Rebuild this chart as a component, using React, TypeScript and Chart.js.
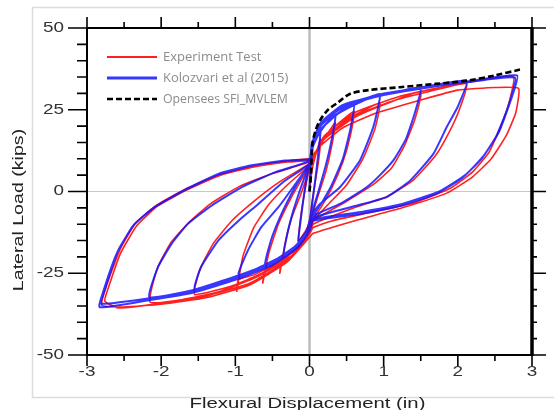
import React, { useEffect, useRef } from 'react';
import { Chart, registerables } from 'chart.js';

Chart.register(...registerables);

type P = [number, number];

// ---------- Series labels ----------
const seriesLabels = ['Experiment Test', 'Kolozvari et al (2015)', 'Opensees SFI_MVLEM'];

// ---------- Axis ticks ----------
const xTickLabels = [-3, -2, -1, 0, 1, 2, 3];
const xMinorTicks = [-2.5, -1.5, -0.5, 0.5, 1.5, 2.5];
const yTickLabels = [-50, -25, 0, 25, 50];
const yMinorTicks = [-45, -40, -35, -30, -20, -15, -10, -5, 5, 10, 15, 20, 30, 35, 40, 45];

// ---------- Experiment Test (red) ----------
const expCycle1: P[] = [[0, 0], [0.03, 6], [0.08, 11], [0.15, 16], [0.12, 9], [0.07, 2], [0.03, -4], [0, -9], [-0.05, -12], [-0.15, -15], [-0.12, -8], [-0.08, -2], [-0.04, 3], [0, 7]];
const expCycle2: P[] = [[0.04, 9], [0.12, 13], [0.22, 17], [0.35, 21], [0.3, 14], [0.22, 6], [0.12, -1], [0.04, -7], [0, -10], [-0.05, -14], [-0.2, -18], [-0.38, -21.5], [-0.4, -25], [-0.33, -16], [-0.24, -8], [-0.12, -1], [-0.03, 5], [0, 8]];
const expCycle3: P[] = [[0.04, 10], [0.15, 15], [0.35, 20], [0.6, 24.5], [0.55, 17], [0.45, 9], [0.3, 1], [0.15, -5], [0.03, -9], [0, -12], [-0.1, -15.5], [-0.3, -20], [-0.6, -24], [-0.63, -28], [-0.55, -19], [-0.42, -10], [-0.25, -2], [-0.1, 4], [0, 8]];
const expCycle4: P[] = [[0.04, 10], [0.2, 16], [0.5, 22], [0.75, 25], [0.95, 27], [0.88, 19], [0.72, 10], [0.5, 2], [0.25, -4], [0.05, -9], [0, -12.5], [-0.15, -17], [-0.45, -22], [-0.75, -25.5], [-0.96, -27], [-0.98, -30.5], [-0.9, -20], [-0.75, -11], [-0.55, -4], [-0.3, 2], [0, 8]];
const expCycle5: P[] = [[0.04, 10], [0.2, 16], [0.6, 22.5], [1.0, 26.5], [1.5, 30.5], [1.42, 22], [1.28, 14], [1.1, 7], [0.85, 2], [0.5, -3], [0.05, -9], [0, -12.5], [-0.2, -18], [-0.6, -24.5], [-1.0, -28.5], [-1.55, -31.5], [-1.48, -24], [-1.3, -16], [-1.05, -9], [-0.75, -3], [-0.4, 3], [0, 8.5]];
const expCycle6: P[] = [[0.04, 10], [0.2, 16], [0.6, 23], [1.1, 27.5], [1.6, 30.5], [2.12, 33], [2.02, 25], [1.88, 18], [1.7, 11], [1.4, 3.5], [1.05, -1.5], [0.6, -5], [0.05, -10], [0, -13], [-0.2, -19], [-0.7, -26], [-1.2, -30.5], [-1.7, -33], [-2.15, -33.8], [-2.06, -24], [-1.88, -16], [-1.65, -10], [-1.35, -4], [-0.95, 1.5], [-0.5, 5.5], [0, 9]];
const expCycle7: P[] = [[0.04, 10], [0.2, 17], [0.6, 24], [1.2, 29], [1.8, 32], [2.3, 34], [2.75, 35.2], [2.7, 28], [2.58, 20], [2.42, 12], [2.2, 6], [1.9, 1], [1.4, -3.5], [0.8, -6.5], [0.3, -9], [0.05, -11], [0, -13], [-0.3, -21], [-0.8, -28], [-1.4, -32], [-2.0, -34.2], [-2.58, -35.6], [-2.76, -33.5], [-2.72, -30], [-2.55, -19], [-2.33, -10.5], [-2.05, -4.5], [-1.65, 0.5], [-1.2, 5], [-0.75, 7.5], [-0.3, 9], [0, 9.5]];
const expCycle8: P[] = [[0.04, 11], [0.15, 14], [0.45, 19.5], [0.9, 24], [1.5, 28], [2.0, 31], [2.5, 31.8], [2.82, 31.5], [2.78, 24], [2.65, 17], [2.45, 10], [2.2, 4.5], [1.85, -0.5], [1.25, -5], [0.6, -9], [0.05, -12.8], [0, -14], [-0.3, -21.5], [-0.8, -28.5], [-1.4, -32.5], [-2.0, -34.5], [-2.5, -35.3], [-2.8, -34.8], [-2.74, -29], [-2.56, -18], [-2.34, -9.5], [-2.05, -4], [-1.65, 1], [-1.2, 5.2], [-0.7, 8], [-0.25, 9.5], [0, 10]];

// ---------- Kolozvari et al (2015) (blue) ----------
const kolCycle1: P[] = [[0, 0], [0.01, 6], [0.04, 13], [0.08, 16.5], [0.15, 19], [0.12, 12], [0.08, 4], [0.04, -3], [0.01, -8], [-0.04, -12], [-0.15, -15.5], [-0.12, -9], [-0.08, -2], [-0.04, 4], [0, 8.5]];
const kolCycle2: P[] = [[0.02, 12], [0.1, 16.5], [0.2, 20], [0.35, 23.5], [0.3, 16], [0.22, 8], [0.12, 0], [0.04, -6], [0, -9.5], [-0.05, -13.5], [-0.18, -17], [-0.35, -20], [-0.3, -13], [-0.22, -6], [-0.12, 1], [-0.04, 6], [0, 9]];
const kolCycle3: P[] = [[0.03, 13], [0.12, 18], [0.3, 22.5], [0.6, 27], [0.55, 19], [0.45, 10], [0.3, 2], [0.15, -4], [0.03, -8], [0, -11], [-0.08, -14], [-0.3, -19], [-0.6, -23], [-0.52, -15], [-0.4, -8], [-0.25, -1], [-0.1, 5], [0, 8.5]];
const kolCycle4: P[] = [[0.03, 13], [0.15, 19], [0.4, 24], [0.7, 27.5], [0.95, 29.8], [0.86, 19.7], [0.68, 9.5], [0.41, 1.3], [0.14, -3.8], [0.03, -7], [0, -11], [-0.1, -15], [-0.35, -19.5], [-0.7, -23.5], [-0.96, -25.5], [-0.83, -18], [-0.65, -10.9], [-0.42, -4.8], [-0.2, 2], [0, 8.5]];
const kolCycle5: P[] = [[0.03, 14], [0.15, 20], [0.4, 25], [0.8, 28.5], [1.2, 30.6], [1.5, 31.8], [1.42, 24], [1.3, 16], [1.13, 9.5], [0.95, 5], [0.77, 1.3], [0.41, -3.8], [0.05, -7.5], [0, -11], [-0.12, -15.5], [-0.45, -21], [-0.9, -25.5], [-1.2, -28], [-1.55, -29.8], [-1.46, -23], [-1.23, -15], [-0.96, -9], [-0.69, -3.8], [-0.35, 3], [0, 8.5]];
const kolCycle6: P[] = [[0.03, 14], [0.15, 20.5], [0.4, 25.5], [0.9, 29.5], [1.5, 31.8], [2.12, 33.8], [2.0, 26], [1.85, 19.7], [1.67, 11.5], [1.36, 3.4], [1.04, -1.7], [0.6, -4.5], [0.05, -8], [0, -11], [-0.15, -16], [-0.5, -21.5], [-1.0, -26], [-1.55, -30], [-2.16, -32.3], [-2.04, -23], [-1.86, -16], [-1.64, -9.9], [-1.32, -4.3], [-0.9, 1.5], [-0.45, 6], [0, 9.5]];
const kolCycle7: P[] = [[0.03, 14.5], [0.15, 21], [0.45, 26.5], [1.0, 29.8], [1.6, 32], [2.15, 33.7], [2.8, 35.5], [2.7, 27], [2.55, 18], [2.35, 11], [2.1, 5], [1.75, 0], [1.25, -3.8], [0.75, -6], [0.3, -7.5], [0.05, -8.5], [0, -11.5], [-0.15, -16.5], [-0.5, -22], [-1.0, -26.5], [-1.55, -30.3], [-2.15, -32.6], [-2.81, -34.3], [-2.76, -30], [-2.58, -18], [-2.36, -10], [-2.09, -4.8], [-1.7, 0.3], [-1.23, 5.4], [-0.78, 8], [-0.33, 9.5], [0, 10]];
const kolCycle8: P[] = [[0.03, 14], [0.15, 20.5], [0.45, 26], [1.0, 29.5], [1.6, 31.8], [2.15, 33.5], [2.77, 34.8], [2.68, 26], [2.52, 17], [2.32, 10], [2.05, 4], [1.7, -0.8], [1.2, -4.5], [0.7, -6.8], [0.3, -8], [0.05, -9], [0, -12], [-0.15, -17], [-0.5, -22.5], [-1.0, -27], [-1.55, -30.8], [-2.15, -33.2], [-2.83, -35.4], [-2.78, -30.5], [-2.6, -19], [-2.38, -10.5], [-2.1, -5], [-1.72, 0], [-1.25, 5], [-0.8, 7.8], [-0.35, 9.3], [0, 9.8]];

// ---------- Opensees SFI_MVLEM (black dashed envelope) ----------
const openseesEnvelope: P[] = [[0, 0], [0.02, 5], [0.04, 14.6], [0.08, 18.5], [0.14, 21.7], [0.25, 25], [0.37, 27], [0.55, 29.9], [0.8, 31], [1.22, 31.9], [1.7, 32.9], [2.12, 33.9], [2.5, 35.5], [2.84, 37.3]];

const experimentCycles = [expCycle1, expCycle2, expCycle3, expCycle4, expCycle5, expCycle6, expCycle7, expCycle8];
const kolozvariCycles = [kolCycle1, kolCycle2, kolCycle3, kolCycle4, kolCycle5, kolCycle6, kolCycle7, kolCycle8];

const toXY = (arr: P[]) => arr.map(([x, y]) => ({ x, y }));

const RED = 'rgba(255,20,20,0.95)';
const BLUE = 'rgba(20,20,255,0.85)';
const TEXT_FONT = '"Liberation Sans", Arial, sans-serif';

function stretchText(ctx: CanvasRenderingContext2D, text: string, x: number, y: number, align: CanvasTextAlign, sx: number, rot = 0) {
  ctx.save();
  ctx.translate(x, y);
  if (rot) ctx.rotate(rot);
  ctx.scale(sx, 1);
  ctx.textAlign = align;
  ctx.textBaseline = 'middle';
  ctx.fillText(text, 0, 0);
  ctx.restore();
}

const decorPlugin = {
  id: 'decor',
  beforeDraw(chart: any) {
    const ctx = chart.ctx as CanvasRenderingContext2D;
    ctx.save();
    ctx.fillStyle = '#ffffff';
    ctx.fillRect(0, 0, chart.width, chart.height);
    ctx.strokeStyle = '#dcdcdc';
    ctx.lineWidth = 1.5;
    ctx.strokeRect(32.5, 7.5, 540, 390);
    ctx.restore();
  },
  beforeDatasetsDraw(chart: any) {
    const ctx = chart.ctx as CanvasRenderingContext2D;
    const { left, right, top, bottom } = chart.chartArea;
    const xs = chart.scales.x;
    const ys = chart.scales.y;
    ctx.save();
    ctx.strokeStyle = '#c8c8c8';
    ctx.lineWidth = 1;
    const y0 = ys.getPixelForValue(0);
    ctx.beginPath();
    ctx.moveTo(left, y0);
    ctx.lineTo(right, y0);
    ctx.stroke();
    ctx.strokeStyle = '#bdbdbd';
    ctx.lineWidth = 2.5;
    const x0 = xs.getPixelForValue(0);
    ctx.beginPath();
    ctx.moveTo(x0, top);
    ctx.lineTo(x0, bottom);
    ctx.stroke();
    ctx.restore();
  },
  afterDatasetsDraw(chart: any) {
    const ctx = chart.ctx as CanvasRenderingContext2D;
    const { left, right, top, bottom } = chart.chartArea;
    const xs = chart.scales.x;
    const ys = chart.scales.y;
    ctx.save();
    ctx.strokeStyle = '#000';
    ctx.lineCap = 'butt';
    // frame
    ctx.lineWidth = 2;
    ctx.beginPath();
    ctx.moveTo(left, top); ctx.lineTo(right, top);
    ctx.moveTo(left, bottom); ctx.lineTo(right, bottom);
    ctx.moveTo(left, top - 1); ctx.lineTo(left, bottom + 1);
    ctx.stroke();
    ctx.lineWidth = 3.5;
    ctx.beginPath();
    ctx.moveTo(right, top - 1); ctx.lineTo(right, bottom + 1);
    ctx.stroke();
    // ticks
    ctx.lineWidth = 1.6;
    ctx.beginPath();
    xTickLabels.forEach((v) => {
      const px = xs.getPixelForValue(v);
      ctx.moveTo(px, top); ctx.lineTo(px, top - 11);
      ctx.moveTo(px, bottom); ctx.lineTo(px, bottom + 11);
    });
    xMinorTicks.forEach((v) => {
      const px = xs.getPixelForValue(v);
      ctx.moveTo(px, top); ctx.lineTo(px, top - 6);
      ctx.moveTo(px, bottom); ctx.lineTo(px, bottom + 6);
    });
    yTickLabels.forEach((v) => {
      const py = ys.getPixelForValue(v);
      ctx.moveTo(left, py); ctx.lineTo(left - 19, py);
      ctx.moveTo(right, py); ctx.lineTo(right + 14, py);
    });
    yMinorTicks.forEach((v) => {
      const py = ys.getPixelForValue(v);
      ctx.moveTo(left, py); ctx.lineTo(left - 10, py);
      ctx.moveTo(right, py); ctx.lineTo(right + 5, py);
    });
    ctx.stroke();

    // tick labels
    ctx.fillStyle = '#333';
    ctx.font = `14px ${TEXT_FONT}`;
    xTickLabels.forEach((v) => {
      stretchText(ctx, String(v), xs.getPixelForValue(v), 372, 'center', 1.35);
    });
    yTickLabels.forEach((v) => {
      stretchText(ctx, String(v), left - 23, ys.getPixelForValue(v), 'right', 1.35);
    });

    // axis titles
    ctx.fillStyle = '#222';
    ctx.font = `14px ${TEXT_FONT}`;
    stretchText(ctx, 'Flexural Displacement (in)', (left + right) / 2 - 2, 404, 'center', 1.45);
    stretchText(ctx, 'Lateral Load (kips)', 19.5, 210, 'center', 1.4, -Math.PI / 2);

    // legend
    const legendX1 = 107, legendX2 = 157, textX = 163;
    const rows = [57, 78, 99];
    ctx.lineWidth = 2.2;
    ctx.strokeStyle = RED;
    ctx.beginPath(); ctx.moveTo(legendX1, rows[0]); ctx.lineTo(legendX2, rows[0]); ctx.stroke();
    ctx.lineWidth = 3;
    ctx.strokeStyle = BLUE;
    ctx.beginPath(); ctx.moveTo(legendX1, rows[1]); ctx.lineTo(legendX2, rows[1]); ctx.stroke();
    ctx.lineWidth = 2.6;
    ctx.strokeStyle = '#000';
    ctx.setLineDash([6, 3]);
    ctx.beginPath(); ctx.moveTo(legendX1, rows[2]); ctx.lineTo(legendX2, rows[2]); ctx.stroke();
    ctx.setLineDash([]);
    ctx.fillStyle = '#8c8c8c';
    ctx.font = `13px "Open Sans", sans-serif`;
    ctx.textAlign = 'left';
    ctx.textBaseline = 'middle';
    ctx.fillText(seriesLabels[0], textX, rows[0]);
    ctx.fillText(seriesLabels[1], textX, rows[1]);
    ctx.font = `12.3px "Open Sans", sans-serif`;
    ctx.fillText(seriesLabels[2], textX, rows[2]);
    ctx.restore();
  },
};

export default function App() {
  const canvasRef = useRef<HTMLCanvasElement | null>(null);

  useEffect(() => {
    if (!canvasRef.current) return;
    const chart = new Chart(canvasRef.current, {
      type: 'scatter',
      data: {
        datasets: [
          {
            label: seriesLabels[2],
            data: toXY(openseesEnvelope),
            showLine: true,
            borderColor: '#000',
            borderWidth: 2.6,
            borderDash: [6, 3],
            pointRadius: 0,
            tension: 0.3,
            order: 0,
          },
          {
            label: seriesLabels[1],
            data: toXY(kolozvariCycles.flat()),
            showLine: true,
            borderColor: BLUE,
            borderWidth: 2,
            pointRadius: 0,
            tension: 0.15,
            order: 1,
          },
          {
            label: seriesLabels[0],
            data: toXY(experimentCycles.flat()),
            showLine: true,
            borderColor: RED,
            borderWidth: 1.6,
            pointRadius: 0,
            tension: 0.15,
            order: 2,
          },
        ],
      },
      options: {
        responsive: false,
        animation: false,
        devicePixelRatio: 1,
        layout: { padding: { left: 87, right: 22, top: 28, bottom: 55 } },
        plugins: { legend: { display: false }, tooltip: { enabled: false } },
        events: [],
        scales: {
          x: { type: 'linear', min: -3, max: 3, display: false },
          y: { type: 'linear', min: -50, max: 50, display: false },
        },
      },
      plugins: [decorPlugin],
    });
    return () => chart.destroy();
  }, []);

  return (
    <div style={{ position: 'absolute', left: 0, top: 0, width: 554, height: 410 }}>
      <canvas ref={canvasRef} width={554} height={410} style={{ width: 554, height: 410, display: 'block' }} />
    </div>
  );
}
